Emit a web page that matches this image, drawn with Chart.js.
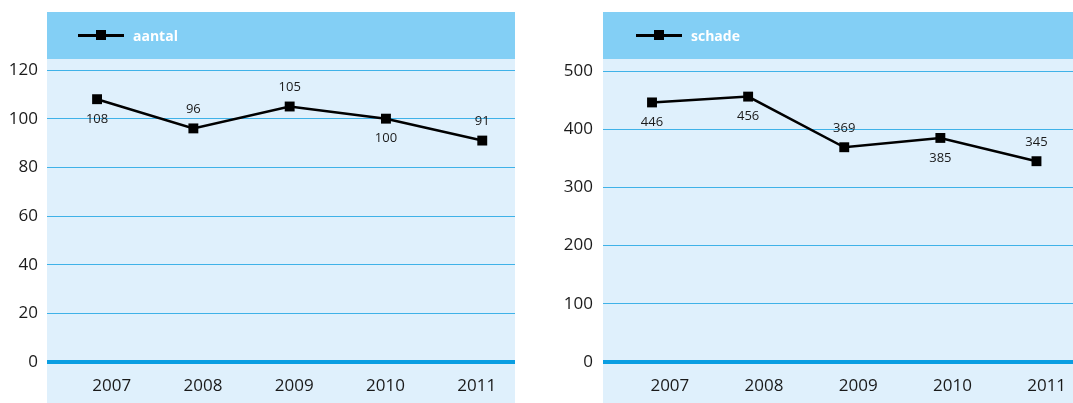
<!DOCTYPE html>
<html>
<head>
<meta charset="utf-8">
<script src="https://cdn.jsdelivr.net/npm/chart.js@4/dist/chart.umd.min.js"></script>
<style>
  html, body { margin: 0; padding: 0; background: #fff; }
  body { width: 1073px; height: 403px; position: relative; overflow: hidden; font-family: "Open Sans", sans-serif; }
  .panel { position: absolute; top: 12px; height: 391px; background: #dff0fc; }
  .panel .head { height: 47px; background: #83cff5; }
  .box { position: absolute; top: 0; height: 403px; }
  .legend { position: absolute; top: 25px; height: 20px; display: flex; align-items: center; }
  .legend .sym { position: relative; width: 46px; height: 20px; margin-right: 9px; }
  .legend .sym::before { content: ""; position: absolute; left: 0; right: 0; top: 9px; height: 2.5px; background: #000; }
  .legend .sym::after { content: ""; position: absolute; left: 18px; top: 5px; width: 10px; height: 10px; background: #000; }
  .legend span { color: #fff; font-weight: bold; font-size: 14px; }
</style>
</head>
<body>
<div class="panel" style="left:47px;width:468px"><div class="head"></div></div>
<div class="panel" style="left:603px;width:470px"><div class="head"></div></div>
<div class="box" style="left:0;width:515px"><canvas id="chartAantal"></canvas></div>
<div class="box" style="left:548px;width:525px"><canvas id="chartSchade"></canvas></div>
<div class="legend" id="legAantal" style="left:78px"></div>
<div class="legend" id="legSchade" style="left:636px"></div>
<script>
const years = ['2007', '2008', '2009', '2010', '2011'];
const aantal = [108, 96, 105, 100, 91];
const schade = [446, 456, 369, 385, 345];
const aantalTicks = [0, 20, 40, 60, 80, 100, 120];
const schadeTicks = [0, 100, 200, 300, 400, 500];

// number next to each marker, above or below it
const valueLabels = {
  id: 'valueLabels',
  afterDatasetsDraw(chart, args, opts) {
    const ctx = chart.ctx;
    const values = chart.data.datasets[0].data;
    ctx.save();
    ctx.font = '13px "Open Sans"';
    ctx.fillStyle = '#1a1a1a';
    ctx.textAlign = 'center';
    ctx.textBaseline = 'middle';
    chart.getDatasetMeta(0).data.forEach((pt, i) => {
      const dy = opts.place[i] === 'above' ? -19 : 20;
      ctx.fillText(values[i].y, pt.x, pt.y + dy);
    });
    ctx.restore();
  }
};

// keep the plot area flush with the panel edges
const noPad = axis => {
  axis.paddingLeft = 0;
  axis.paddingRight = 0;
};

function lineChart(id, name, values, ticks, opt) {
  const points = values.map((v, i) => ({ x: i, y: v }));
  const legend = document.getElementById(opt.legend);
  legend.innerHTML = '<div class="sym"></div><span></span>';
  legend.querySelector('span').textContent = name;

  return new Chart(document.getElementById(id), {
    type: 'line',
    data: {
      datasets: [{
        label: name,
        data: points,
        xAxisID: 'x',
        yAxisID: 'y',
        borderColor: '#000',
        borderWidth: 2.5,
        backgroundColor: '#000',
        pointStyle: 'rect',
        pointRadius: 7,
        pointHoverRadius: 7,
        pointBorderWidth: 0,
        tension: 0,
      }]
    },
    plugins: [valueLabels],
    options: {
      responsive: false,
      animation: false,
      layout: { autoPadding: false, padding: { top: opt.top, left: 0, right: 0, bottom: 0 } },
      scales: {
        x: {
          type: 'linear',
          display: false,
          min: opt.pointRange[0],
          max: opt.pointRange[1],
          ticks: { display: false },
          afterFit: noPad,
        },
        xLab: {
          type: 'linear',
          position: 'bottom',
          min: opt.labelRange[0],
          max: opt.labelRange[1],
          grid: { display: false, drawTicks: false },
          border: { display: false },
          afterBuildTicks: axis => { axis.ticks = years.map((y, i) => ({ value: i })); },
          afterFit: axis => {
            axis.height = 41;
            noPad(axis);
          },
          ticks: {
            padding: 14,
            maxRotation: 0,
            autoSkip: false,
            color: '#1a1a1a',
            font: { family: 'Open Sans', size: 17 },
            callback: v => years[v],
          }
        },
        y: {
          min: 0,
          max: ticks[ticks.length - 1],
          afterBuildTicks: axis => { axis.ticks = ticks.map(t => ({ value: t })); },
          afterFit: axis => {
            axis.width = opt.yWidth;
            noPad(axis);
          },
          border: { display: false },
          grid: {
            drawTicks: false,
            color: ctx => ctx.tick && ctx.tick.value === 0 ? '#0a9ee2' : '#3fb2e8',
            lineWidth: ctx => ctx.tick && ctx.tick.value === 0 ? 4 : 1,
          },
          ticks: {
            padding: opt.yPad,
            color: '#1a1a1a',
            font: { family: 'Open Sans', size: 17 },
          }
        }
      },
      plugins: {
        legend: { display: false },
        tooltip: { enabled: false },
        valueLabels: { place: opt.place },
      }
    }
  });
}

document.getElementById('chartAantal').width = 515;
document.getElementById('chartAantal').height = 403;
document.getElementById('chartSchade').width = 525;
document.getElementById('chartSchade').height = 403;

lineChart('chartAantal', 'aantal', aantal, aantalTicks, {
  legend: 'legAantal',
  top: 70,
  yWidth: 47,
  yPad: 9,
  pointRange: [-0.52, 4.34],
  labelRange: [-0.71, 4.42],
  place: ['below', 'above', 'above', 'below', 'above'],
});

lineChart('chartSchade', 'schade', schade, schadeTicks, {
  legend: 'legSchade',
  top: 71,
  yWidth: 55,
  yPad: 10,
  pointRange: [-0.51, 4.38],
  labelRange: [-0.71, 4.28],
  place: ['below', 'below', 'above', 'below', 'above'],
});
</script>
</body>
</html>
